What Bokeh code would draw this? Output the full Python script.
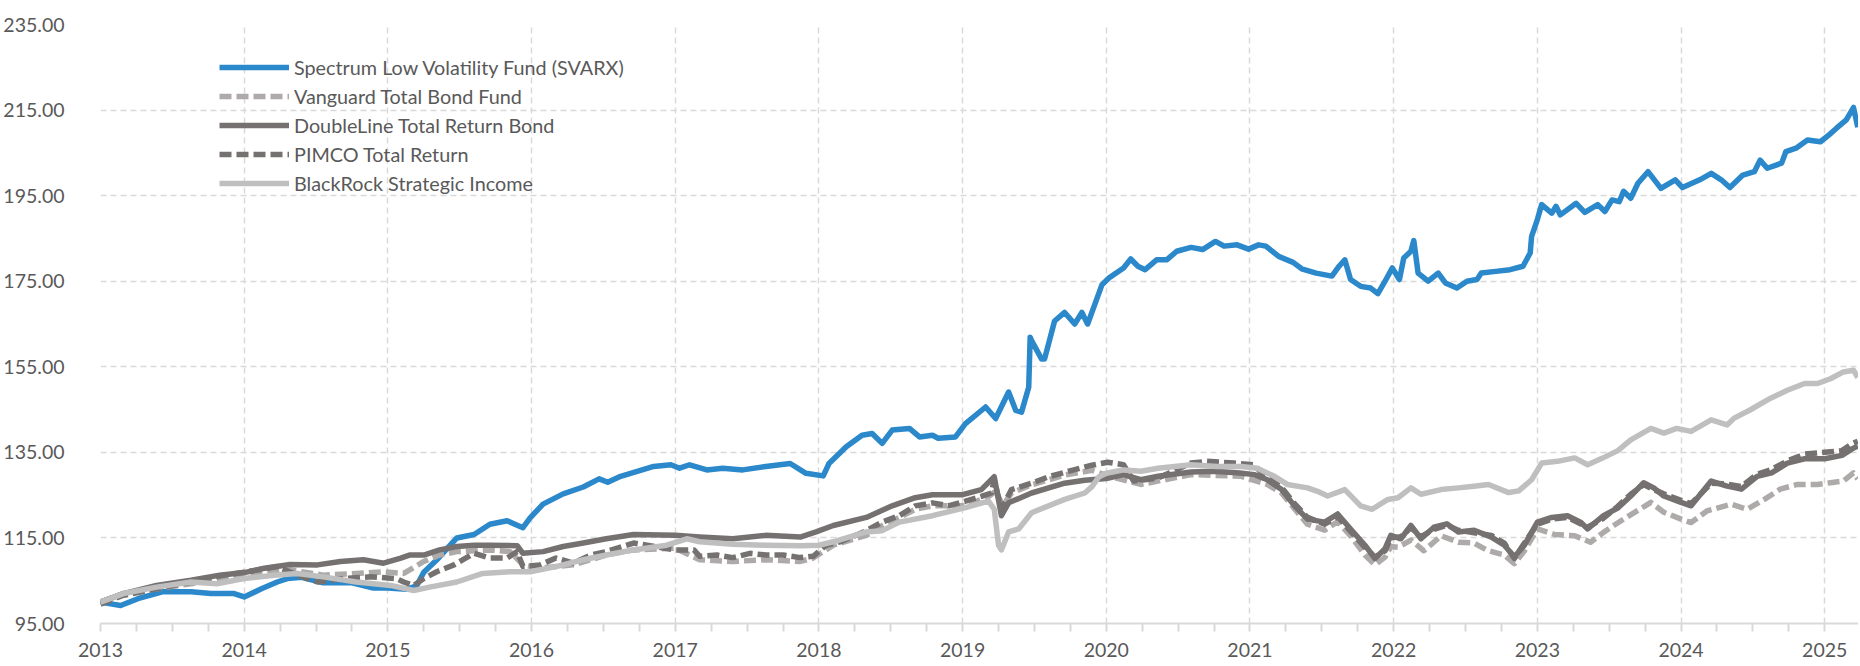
from bokeh.plotting import figure
from bokeh.models import FixedTicker, NumeralTickFormatter, PrintfTickFormatter, Range1d, Legend, LegendItem
from bokeh.embed import file_html
from bokeh.resources import INLINE

# ---------------- data (decimal years, growth of 100) ----------------
svarx_t = [2013.00, 2013.14, 2013.26, 2013.43, 2013.63, 2013.77, 2013.93, 2014.00, 2014.12, 2014.23,
           2014.30, 2014.40, 2014.55, 2014.75, 2014.90, 2015.00, 2015.13, 2015.20, 2015.25, 2015.35,
           2015.48, 2015.60, 2015.71, 2015.83, 2015.94, 2015.99, 2016.08, 2016.22, 2016.36, 2016.47,
           2016.53, 2016.62, 2016.85, 2016.97, 2017.03, 2017.10, 2017.22, 2017.33, 2017.47, 2017.63,
           2017.80, 2017.91, 2018.03, 2018.07, 2018.19, 2018.30, 2018.37, 2018.44, 2018.51, 2018.63,
           2018.70, 2018.79, 2018.83, 2018.95, 2019.02, 2019.16, 2019.23, 2019.32, 2019.37, 2019.41,
           2019.46, 2019.47, 2019.48, 2019.55, 2019.57, 2019.64, 2019.71, 2019.78, 2019.83, 2019.87,
           2019.92, 2019.97, 2020.02, 2020.12, 2020.17, 2020.22, 2020.27, 2020.35, 2020.42, 2020.49,
           2020.59, 2020.67, 2020.76, 2020.82, 2020.91, 2020.99, 2021.06, 2021.11, 2021.20, 2021.30,
           2021.36, 2021.46, 2021.57, 2021.62, 2021.66, 2021.70, 2021.77, 2021.84, 2021.89, 2021.94,
           2021.99, 2022.04, 2022.07, 2022.12, 2022.14, 2022.17, 2022.24, 2022.31, 2022.36, 2022.44,
           2022.51, 2022.58, 2022.61, 2022.71, 2022.81, 2022.90, 2022.95, 2022.96, 2023.00, 2023.03,
           2023.10, 2023.13, 2023.16, 2023.27, 2023.33, 2023.42, 2023.47, 2023.52, 2023.57, 2023.60,
           2023.65, 2023.70, 2023.77, 2023.86, 2023.96, 2024.01, 2024.13, 2024.21, 2024.28, 2024.34,
           2024.43, 2024.51, 2024.55, 2024.60, 2024.70, 2024.73, 2024.80, 2024.88, 2024.97, 2025.03,
           2025.08, 2025.15, 2025.20, 2025.23]
svarx_v = [100.0, 99.2, 100.8, 102.4, 102.4, 102.0, 102.0, 101.2, 103.1, 104.7,
           105.5, 105.8, 104.5, 104.5, 103.3, 103.3, 103.0, 103.8, 107.0, 110.2,
           115.0, 115.8, 118.2, 119.0, 117.4, 119.7, 122.9, 125.3, 126.9, 128.8,
           128.0, 129.4, 131.7, 132.1, 131.3, 132.1, 130.9, 131.3, 130.9, 131.7,
           132.4, 130.1, 129.5, 132.4, 136.3, 139.0, 139.4, 137.1, 140.2, 140.6,
           138.6, 139.0, 138.3, 138.6, 141.7, 145.6, 142.9, 149.1, 144.8, 144.4,
           150.2, 161.9, 161.1, 156.8, 156.8, 165.7, 167.7, 165.0, 167.7, 165.0,
           169.6, 174.2, 175.8, 178.1, 180.2, 178.5, 177.7, 180.0, 180.0, 182.0,
           182.9, 182.4, 184.3, 183.2, 183.5, 182.5, 183.5, 183.2, 180.8, 179.4,
           177.9, 176.9, 176.2, 178.5, 180.0, 175.4, 173.8, 173.4, 172.1, 175.0,
           178.1, 175.4, 180.4, 182.0, 184.5, 176.9, 175.0, 176.9, 174.6, 173.4,
           175.0, 175.4, 176.9, 177.3, 177.7, 178.5, 181.6, 185.5, 189.4, 192.9,
           190.9, 192.5, 190.5, 193.2, 191.1, 192.9, 191.3, 194.0, 193.6, 196.0,
           194.4, 197.9, 200.6, 196.7, 198.7, 196.9, 198.7, 200.2, 198.7, 196.9,
           199.8, 200.6, 203.3, 201.4, 202.6, 205.3, 206.1, 208.0, 207.6, 209.2,
           210.7, 212.7, 215.6, 211.0]

vanguard_t = [2013.00, 2013.16, 2013.63, 2014.00, 2014.32, 2014.55, 2014.78, 2014.97, 2015.11, 2015.25,
              2015.36, 2015.48, 2015.71, 2015.85, 2015.94, 2016.06, 2016.29, 2016.52, 2016.71, 2017.00,
              2017.17, 2017.40, 2017.63, 2017.87, 2017.96, 2018.10, 2018.33, 2018.44, 2018.56, 2018.67,
              2018.79, 2019.02, 2019.18, 2019.23, 2019.28, 2019.34, 2019.48, 2019.71, 2019.90, 2020.01,
              2020.24, 2020.59, 2020.94, 2021.12, 2021.22, 2021.31, 2021.40, 2021.52, 2021.61, 2021.70,
              2021.80, 2021.87, 2021.94, 2021.98, 2022.03, 2022.12, 2022.21, 2022.33, 2022.45, 2022.56,
              2022.65, 2022.77, 2022.84, 2022.91, 2023.00, 2023.12, 2023.26, 2023.37, 2023.46, 2023.60,
              2023.79, 2023.88, 2024.00, 2024.07, 2024.18, 2024.35, 2024.46, 2024.58, 2024.69, 2024.81,
              2024.95, 2025.04, 2025.13, 2025.20, 2025.23]
vanguard_v = [100.0, 102.0, 104.3, 106.3, 107.5, 106.3, 106.7, 107.1, 106.7, 109.5,
              111.0, 111.8, 112.2, 111.8, 108.7, 107.9, 108.7, 111.0, 112.2, 112.6,
              109.9, 109.5, 109.9, 109.5, 110.3, 113.3, 115.6, 117.9, 119.8, 121.7,
              122.5, 122.5, 124.7, 125.9, 122.5, 125.5, 127.4, 129.7, 130.8, 129.5,
              127.5, 129.8, 129.4, 127.5, 125.5, 121.8, 118.2, 116.8, 118.8, 115.5,
              111.0, 108.7, 110.5, 113.0, 112.8, 114.5, 112.0, 115.5, 114.0, 113.8,
              112.1, 111.0, 109.0, 112.0, 117.1, 115.8, 115.5, 114.0, 116.3, 119.4,
              123.3, 121.0, 119.4, 118.6, 121.3, 122.9, 121.7, 124.0, 126.4, 127.5,
              127.5, 127.9, 128.3, 130.2, 128.8]

doubleline_t = [2013.00, 2013.16, 2013.39, 2013.63, 2013.83, 2014.00, 2014.14, 2014.32, 2014.51, 2014.67,
                2014.83, 2014.97, 2015.09, 2015.15, 2015.25, 2015.36, 2015.48, 2015.60, 2015.71, 2015.90,
                2015.94, 2016.08, 2016.22, 2016.36, 2016.52, 2016.71, 2017.00, 2017.17, 2017.40, 2017.63,
                2017.87, 2017.98, 2018.10, 2018.33, 2018.51, 2018.67, 2018.79, 2019.00, 2019.13, 2019.22,
                2019.27, 2019.32, 2019.48, 2019.71, 2019.85, 2020.00, 2020.12, 2020.24, 2020.36, 2020.59,
                2020.75, 2020.93, 2021.03, 2021.12, 2021.22, 2021.31, 2021.40, 2021.52, 2021.61, 2021.70,
                2021.80, 2021.87, 2021.94, 2021.98, 2022.05, 2022.12, 2022.19, 2022.28, 2022.37, 2022.45,
                2022.56, 2022.68, 2022.77, 2022.84, 2022.91, 2023.00, 2023.10, 2023.21, 2023.30, 2023.35,
                2023.46, 2023.56, 2023.65, 2023.74, 2023.81, 2023.88, 2024.00, 2024.07, 2024.21, 2024.32,
                2024.42, 2024.53, 2024.63, 2024.74, 2024.86, 2025.00, 2025.12, 2025.19, 2025.23]
doubleline_v = [100.0, 102.0, 103.9, 105.1, 106.3, 106.9, 107.9, 108.8, 108.7, 109.5,
                109.9, 109.1, 110.3, 111.0, 111.0, 112.2, 113.0, 113.3, 113.3, 113.2,
                111.4, 111.8, 113.0, 113.8, 114.8, 115.8, 115.6, 115.2, 114.8, 115.6,
                115.2, 116.4, 117.9, 119.8, 122.5, 124.4, 125.1, 125.1, 126.3, 129.3,
                120.2, 123.2, 125.5, 127.8, 128.5, 128.9, 129.8, 128.6, 129.4, 130.4,
                130.6, 130.2, 129.8, 128.6, 126.3, 122.5, 119.4, 118.7, 120.6, 117.1,
                113.3, 110.2, 112.5, 115.6, 114.8, 117.9, 114.8, 117.5, 118.3, 116.4,
                116.8, 115.2, 113.3, 110.6, 113.3, 118.7, 119.8, 120.2, 118.7, 117.1,
                120.2, 122.0, 124.8, 127.9, 126.7, 124.8, 123.3, 122.5, 128.3, 127.1,
                126.4, 129.4, 130.2, 132.5, 133.5, 133.5, 134.3, 135.8, 136.5]

pimco_t = [2013.00, 2013.16, 2013.39, 2013.63, 2013.86, 2014.02, 2014.23, 2014.37, 2014.51, 2014.69,
           2014.88, 2015.06, 2015.11, 2015.18, 2015.25, 2015.34, 2015.46, 2015.60, 2015.71, 2015.83,
           2015.90, 2015.94, 2016.06, 2016.17, 2016.29, 2016.41, 2016.52, 2016.71, 2017.00, 2017.13,
           2017.17, 2017.29, 2017.40, 2017.52, 2017.63, 2017.75, 2017.87, 2017.96, 2018.05, 2018.15,
           2018.33, 2018.44, 2018.56, 2018.67, 2018.79, 2018.90, 2019.02, 2019.13, 2019.20, 2019.22,
           2019.27, 2019.34, 2019.48, 2019.60, 2019.76, 2019.90, 2020.01, 2020.12, 2020.19, 2020.36,
           2020.59, 2020.70, 2020.89, 2021.03, 2021.10, 2021.22, 2021.31, 2021.40, 2021.52, 2021.61,
           2021.70, 2021.80, 2021.87, 2021.94, 2021.98, 2022.05, 2022.12, 2022.19, 2022.28, 2022.37,
           2022.45, 2022.56, 2022.68, 2022.77, 2022.84, 2022.91, 2023.00, 2023.10, 2023.21, 2023.30,
           2023.35, 2023.46, 2023.56, 2023.65, 2023.74, 2023.81, 2023.88, 2024.00, 2024.07, 2024.21,
           2024.32, 2024.42, 2024.53, 2024.63, 2024.74, 2024.86, 2025.00, 2025.12, 2025.19, 2025.23]
pimco_v = [99.5, 101.6, 103.1, 104.7, 106.3, 107.1, 108.3, 106.3, 104.7, 105.5,
           105.9, 105.5, 104.7, 103.9, 105.5, 107.1, 108.7, 111.4, 110.3, 110.3,
           111.8, 108.3, 108.7, 110.3, 109.1, 111.0, 111.8, 113.8, 112.2, 112.2,
           110.7, 111.0, 110.4, 111.4, 111.0, 111.0, 110.4, 110.7, 113.3, 114.1,
           116.7, 118.7, 120.2, 122.5, 123.2, 122.5, 123.6, 124.7, 125.5, 128.5,
           121.7, 126.3, 127.8, 129.3, 130.8, 132.0, 132.7, 132.1, 128.3, 129.0,
           132.5, 132.9, 132.5, 132.1, 129.4, 126.8, 123.0, 119.8, 118.2, 120.0,
           116.5, 112.8, 110.5, 112.0, 115.0, 115.3, 117.4, 115.3, 117.0, 118.0,
           116.8, 116.2, 115.6, 113.8, 110.2, 113.8, 118.2, 119.4, 119.8, 118.3,
           117.5, 119.6, 122.4, 125.2, 127.5, 126.3, 125.3, 123.8, 123.0, 127.8,
           127.6, 127.0, 129.9, 131.0, 133.0, 134.6, 135.0, 135.4, 137.0, 137.6]

blackrock_t = [2013.00, 2013.16, 2013.39, 2013.63, 2013.81, 2014.00, 2014.21, 2014.37, 2014.55, 2014.78,
               2015.02, 2015.18, 2015.29, 2015.48, 2015.66, 2015.85, 2015.99, 2016.17, 2016.36, 2016.52,
               2016.71, 2016.94, 2017.08, 2017.17, 2017.40, 2017.63, 2017.87, 2018.00, 2018.10, 2018.33,
               2018.44, 2018.56, 2018.79, 2019.02, 2019.18, 2019.22, 2019.25, 2019.27, 2019.32, 2019.39,
               2019.48, 2019.71, 2019.85, 2019.90, 2019.95, 2020.00, 2020.12, 2020.24, 2020.36, 2020.59,
               2020.77, 2020.94, 2021.05, 2021.17, 2021.26, 2021.40, 2021.47, 2021.54, 2021.66, 2021.77,
               2021.85, 2021.96, 2022.03, 2022.12, 2022.19, 2022.33, 2022.45, 2022.56, 2022.66, 2022.80,
               2022.87, 2022.96, 2023.03, 2023.14, 2023.26, 2023.35, 2023.45, 2023.56, 2023.65, 2023.79,
               2023.88, 2023.97, 2024.07, 2024.21, 2024.32, 2024.37, 2024.48, 2024.62, 2024.74, 2024.86,
               2024.95, 2025.04, 2025.13, 2025.20, 2025.23]
blackrock_v = [100.0, 102.0, 103.5, 104.7, 104.3, 105.5, 106.3, 106.7, 105.9, 104.7,
               103.9, 102.7, 103.5, 104.7, 106.7, 107.1, 107.1, 108.3, 109.9, 111.0,
               112.2, 113.3, 114.8, 114.1, 113.5, 113.3, 113.2, 113.3, 114.1, 116.4,
               116.7, 118.7, 120.2, 122.1, 123.6, 121.7, 113.3, 112.2, 116.4, 117.1,
               120.9, 124.0, 125.5, 127.0, 129.3, 130.1, 130.9, 130.6, 131.3, 132.1,
               131.7, 131.7, 131.3, 129.4, 127.5, 126.7, 125.9, 124.8, 126.3, 122.5,
               121.7, 124.0, 124.4, 126.7, 125.2, 126.3, 126.7, 127.1, 127.5, 125.6,
               126.0, 128.6, 132.5, 132.9, 133.7, 132.1, 133.6, 135.4, 137.9, 140.6,
               139.5, 140.6, 139.9, 142.6, 141.4, 143.0, 144.9, 147.6, 149.5, 151.1,
               151.1, 152.2, 153.8, 154.2, 152.5]

series_names = ["Spectrum Low Volatility Fund (SVARX)", "Vanguard Total Bond Fund",
                "DoubleLine Total Return Bond", "PIMCO Total Return", "BlackRock Strategic Income"]
year_ticks = [2013, 2014, 2015, 2016, 2017, 2018, 2019, 2020, 2021, 2022, 2023, 2024, 2025]
y_ticks = [95, 115, 135, 155, 175, 195, 215, 235]

# ---------------- figure ----------------
FONT = "Lato"
TXT = "#595959"
GRID = "#d9d9d9"

p = figure(frame_width=1758, frame_height=599, output_backend="svg", toolbar_location=None,
           x_range=Range1d(2013.0, 2025.235), y_range=Range1d(95, 235),
           min_border_left=100, min_border_right=0, min_border_top=24, min_border_bottom=0)
p.outline_line_color = None
p.background_fill_color = "white"
p.border_fill_color = "white"

minor = [y + q / 4 for y in range(2013, 2026) for q in (1, 2, 3)]
p.xaxis.ticker = FixedTicker(ticks=year_ticks, minor_ticks=minor)
p.xaxis.formatter = PrintfTickFormatter(format="%d")
p.yaxis.ticker = FixedTicker(ticks=y_ticks)
p.yaxis.formatter = NumeralTickFormatter(format="0.00")

for ax in (p.xaxis[0], p.yaxis[0]):
    ax.major_label_text_font = FONT
    ax.major_label_text_font_size = "19.5px"
    ax.major_label_text_color = TXT

p.xaxis.axis_line_color = GRID
p.xaxis.axis_line_width = 2
p.xaxis.major_tick_line_color = GRID
p.xaxis.major_tick_line_width = 2
p.xaxis.minor_tick_line_color = GRID
p.xaxis.minor_tick_line_width = 2
p.xaxis.major_tick_in = 0
p.xaxis.major_tick_out = 8
p.xaxis.minor_tick_in = 0
p.xaxis.minor_tick_out = 8
p.xaxis.major_label_standoff = 11

p.yaxis.axis_line_color = None
p.yaxis.major_tick_line_color = None
p.yaxis.minor_tick_line_color = None
p.yaxis.major_label_standoff = 30

for g in (p.xgrid[0], p.ygrid[0]):
    g.grid_line_color = GRID
    g.grid_line_width = 1.5
    g.grid_line_dash = "6 4"
p.xgrid.ticker = FixedTicker(ticks=year_ticks)
p.ygrid.ticker = FixedTicker(ticks=y_ticks)

BLUE = "#2A88CB"
LG = "#AEAAAA"
DG = "#767171"
LLG = "#BFBFBF"
LW = 5.5

r1 = p.line(svarx_t, svarx_v, line_color=BLUE, line_width=LW, line_join="round")
r2 = p.line(vanguard_t, vanguard_v, line_color=LG, line_width=LW, line_dash="12 5", line_join="round")
r3 = p.line(doubleline_t, doubleline_v, line_color=DG, line_width=LW, line_join="round")
r4 = p.line(pimco_t, pimco_v, line_color=DG, line_width=LW, line_dash="12 5", line_join="round")
r5 = p.line(blackrock_t, blackrock_v, line_color=LLG, line_width=LW, line_join="round")

legend = Legend(items=[LegendItem(label=n, renderers=[r]) for n, r in zip(series_names, [r1, r2, r3, r4, r5])],
                location=(119, 428), orientation="vertical",
                glyph_width=70, glyph_height=20, label_height=20, spacing=5,
                label_standoff=5, padding=0, margin=0,
                border_line_color=None, background_fill_alpha=0,
                label_text_font=FONT, label_text_font_size="19.8px", label_text_color=TXT)
p.add_layout(legend)

open("out.html", "w").write(file_html(p, INLINE))
